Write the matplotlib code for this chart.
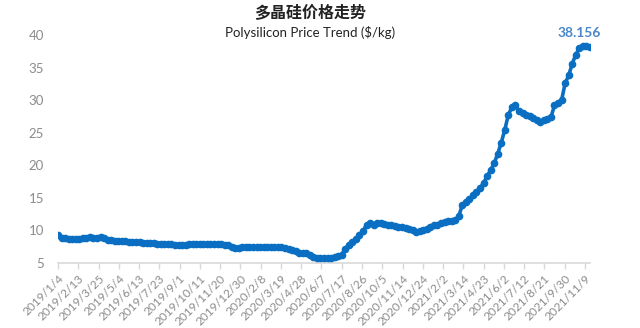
import matplotlib
matplotlib.use("Agg")
import matplotlib.pyplot as plt
import pandas as pd

title = "多晶硅价格走势"
subtitle = "Polysilicon Price Trend ($/kg)"
start_date = "2019-01-04"
prices = [
    9.3, 8.9, 8.8, 8.75, 8.75, 8.75, 8.75, 8.8, 8.9, 9.0,
    8.9, 8.8, 9.0, 8.8, 8.6, 8.5, 8.4, 8.4, 8.45, 8.4,
    8.3, 8.3, 8.2, 8.2, 8.1, 8.1, 8.1, 8.1, 8.0, 8.0,
    7.95, 7.9, 7.85, 7.8, 7.8, 7.8, 7.8, 7.85, 7.9, 7.9,
    7.95, 7.95, 7.95, 7.95, 7.95, 7.9, 7.9, 7.8, 7.7, 7.5,
    7.3, 7.25, 7.4, 7.5, 7.5, 7.5, 7.5, 7.45, 7.45, 7.4,
    7.45, 7.5, 7.5, 7.4, 7.35, 7.2, 7.0, 6.8, 6.6, 6.5,
    6.5, 6.2, 5.9, 5.8, 5.75, 5.75, 5.7, 5.75, 5.9, 6.1,
    6.3, 7.2, 7.8, 8.2, 8.7, 9.3, 9.9, 10.9, 11.1, 10.9,
    11.2, 11.1, 11.0, 10.9, 10.9, 10.7, 10.6, 10.5, 10.4, 10.3,
    10.1, 9.8, 9.9, 10.0, 10.3, 10.6, 10.8, 10.9, 11.1, 11.3,
    11.5, 11.5, 11.6, 12.2, 13.9, 14.3, 14.8, 15.4, 15.9, 16.5,
    17.3, 18.3, 19.3, 20.3, 21.8, 23.5, 25.5, 27.8, 28.9, 29.2,
    28.3, 28.0, 27.8, 27.6, 27.3, 27.0, 26.7, 26.9, 27.1, 27.4,
    29.2, 29.5, 30.0, 32.6, 33.8, 35.6, 37.0, 38.0, 38.25, 38.3,
    38.156,
]
tick_labels = [
    "2019/1/4", "2019/2/13", "2019/3/25", "2019/5/4", "2019/6/13", "2019/7/23",
    "2019/9/1", "2019/10/11", "2019/11/20", "2019/12/30", "2020/2/8", "2020/3/19",
    "2020/4/28", "2020/6/7", "2020/7/17", "2020/8/26", "2020/10/5", "2020/11/14",
    "2020/12/24", "2021/2/2", "2021/3/14", "2021/4/23", "2021/6/2", "2021/7/12",
    "2021/8/21", "2021/9/30", "2021/11/9",
]
last_label = "38.156"

dates = pd.date_range(start_date, periods=len(prices), freq="7D")
tick_dates = pd.to_datetime(tick_labels, format="%Y/%m/%d")

plt.rcParams['font.family'] = ['Lato', 'DejaVu Sans']
fig = plt.figure(figsize=(6.4, 3.28), dpi=100)
ax = fig.add_axes([0.0906, 0.198, 0.832, 0.695])

blue = "#0a6fc2"
ax.plot(dates, prices, color=blue, lw=2.6, marker="o", ms=4.5,
        markerfacecolor=blue, markeredgecolor=blue, zorder=3)

ax.set_ylim(5, 40)
ax.set_yticks([5, 10, 15, 20, 25, 30, 35, 40])
ax.set_xlim(dates[0], dates[-1] + pd.Timedelta(days=1))
ax.set_xticks(tick_dates)
ax.set_xticklabels(tick_labels, rotation=45, ha="right", rotation_mode="anchor",
                   fontsize=8.6, color="#8c8c8c")
for lab in ax.get_yticklabels():
    lab.set_fontsize(9.5)
    lab.set_color("#8c8c8c")

for s in ["top", "right", "left"]:
    ax.spines[s].set_visible(False)
ax.spines["bottom"].set_color("#d9d9d9")
ax.spines["bottom"].set_linewidth(1.2)
ax.tick_params(axis="x", length=4, color="#d9d9d9", width=1, pad=3)
ax.tick_params(axis="y", length=0, pad=10)

ax.annotate(last_label, (dates[-1], prices[-1]), xytext=(-8, 6),
            textcoords="offset points", ha="center", va="bottom",
            fontsize=10, fontweight="bold", color="#4a86c8")

fig.text(0.485, 0.962, title, ha="center", va="center", fontsize=11.5,
         fontweight="bold", family=["Noto Sans CJK SC", "DejaVu Sans"], color="#222222")
fig.text(0.485, 0.9, subtitle, ha="center", va="center", fontsize=9.5,
         color="#222222")

fig.savefig("out.png", dpi=100, facecolor="white")
